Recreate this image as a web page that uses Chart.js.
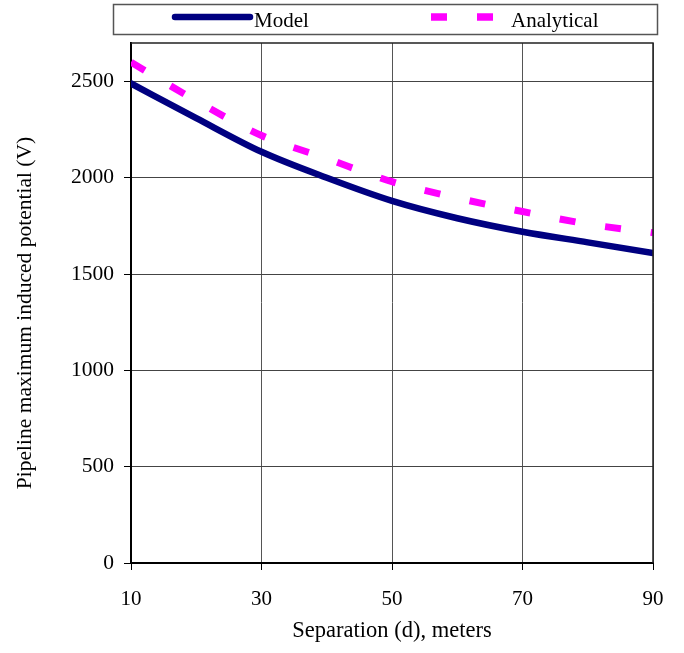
<!DOCTYPE html>
<html>
<head>
<meta charset="utf-8">
<title>Induced potential vs separation</title>
<script src="https://cdn.jsdelivr.net/npm/chart.js@4.4.1/dist/chart.umd.min.js"></script>
<style>
  html, body { margin: 0; padding: 0; background: #fff; }
  #wrap { width: 684px; height: 653px; position: relative; }
</style>
</head>
<body>
<div id="wrap"><canvas id="chart" width="684" height="653"></canvas></div>
<script>
/* ── data ─────────────────────────────────────────────── */
const separation = [10, 20, 30, 40, 50, 60, 70, 80, 90];            // meters
const modelV      = [2490, 2310, 2135, 2000, 1880, 1790, 1720, 1665, 1610];
const analyticalV = [2600, 2400, 2220, 2100, 1980, 1895, 1825, 1760, 1715];
const xTicks = [10, 30, 50, 70, 90];
const yTicks = [0, 500, 1000, 1500, 2000, 2500];
const yTitle = 'Pipeline maximum induced potential (V)';

const FONT = "'Liberation Serif', 'Times New Roman', serif";

const toPoints = vals => vals.map((v, i) => ({ x: separation[i], y: v }));

/* ── plot frame (top + right edges) ───────────────────── */
const framePlugin = {
  id: 'frame',
  afterDatasetsDraw(chart) {
    const { ctx, chartArea: a } = chart;
    ctx.save();
    ctx.strokeStyle = '#222';
    ctx.lineWidth = 1.5;
    ctx.beginPath();
    ctx.moveTo(a.left, a.top);
    ctx.lineTo(a.right, a.top);
    ctx.lineTo(a.right, a.bottom);
    ctx.stroke();
    ctx.restore();
  }
};

/* ── rotated y title, sitting a little below the axis centre ── */
const yTitlePlugin = {
  id: 'yTitle',
  afterDraw(chart) {
    const { ctx } = chart;
    ctx.save();
    ctx.translate(25, 313);
    ctx.rotate(-Math.PI / 2);
    ctx.fillStyle = '#000';
    ctx.font = '21.5px ' + FONT;
    ctx.textAlign = 'center';
    ctx.textBaseline = 'middle';
    ctx.fillText(yTitle, 0, 0);
    ctx.restore();
  }
};

/* ── boxed legend across the top ──────────────────────── */
const legendBox = {
  id: 'legendBox',
  afterDraw(chart) {
    const { ctx } = chart;
    const ds = chart.data.datasets;
    ctx.save();
    ctx.strokeStyle = '#555';
    ctx.lineWidth = 1.5;
    ctx.strokeRect(113.5, 4.5, 544, 30);

    // Model sample
    ctx.strokeStyle = ds[0].borderColor;
    ctx.lineWidth = ds[0].borderWidth;
    ctx.lineCap = 'round';
    ctx.beginPath();
    ctx.moveTo(175, 17);
    ctx.lineTo(250, 17);
    ctx.stroke();

    // Analytical sample
    ctx.strokeStyle = ds[1].borderColor;
    ctx.lineWidth = 7.5;
    ctx.lineCap = 'butt';
    ctx.setLineDash(ds[1].borderDash);
    ctx.beginPath();
    ctx.moveTo(431, 17);
    ctx.lineTo(494, 17);
    ctx.stroke();
    ctx.setLineDash([]);

    ctx.fillStyle = '#000';
    ctx.font = '21px ' + FONT;
    ctx.textBaseline = 'alphabetic';
    ctx.fillText(ds[0].label, 254, 27);
    ctx.fillText(ds[1].label, 511, 27);
    ctx.restore();
  }
};

new Chart(document.getElementById('chart'), {
  type: 'line',
  data: {
    datasets: [
      {
        label: 'Model',
        data: toPoints(modelV),
        borderColor: '#000080',
        borderWidth: 6.5,
        borderCapStyle: 'round',
        borderJoinStyle: 'round',
        pointRadius: 0,
        cubicInterpolationMode: 'monotone',
        fill: false,
      },
      {
        label: 'Analytical',
        data: toPoints(analyticalV),
        borderColor: '#FF00FF',
        borderWidth: 7,
        borderDash: [16, 30],
        borderCapStyle: 'butt',
        pointRadius: 0,
        cubicInterpolationMode: 'monotone',
        fill: false,
      },
    ],
  },
  options: {
    responsive: false,
    animation: false,
    devicePixelRatio: 1,
    layout: { padding: { top: 43, right: 31, bottom: 0, left: 0 } },
    plugins: {
      legend: { display: false },
      tooltip: { enabled: false },
    },
    scales: {
      x: {
        type: 'linear',
        min: 10,
        max: 90,
        afterBuildTicks: s => { s.ticks = xTicks.map(v => ({ value: v })); },
        afterFit: s => { s.height = 90; },
        grid: { color: '#555', lineWidth: 1, tickLength: 7, tickColor: '#000' },
        border: { color: '#000', width: 2 },
        ticks: {
          color: '#000', padding: 17, maxRotation: 0,
          font: { size: 21, family: FONT },
          callback: v => String(v),
        },
        title: {
          display: true,
          text: 'Separation (d), meters',
          color: '#000',
          font: { size: 22.5, family: FONT },
          padding: { top: 0, bottom: 8 },
        },
      },
      y: {
        min: 0,
        max: 2700,
        afterBuildTicks: s => { s.ticks = yTicks.map(v => ({ value: v })); },
        afterFit: s => { s.width = 131; },
        grid: { color: '#444', lineWidth: 1, tickLength: 7, tickColor: '#000' },
        border: { color: '#000', width: 2 },
        ticks: {
          color: '#000', padding: 10,
          font: { size: 21.5, family: FONT },
          callback: v => String(v),
        },
      },
    },
  },
  plugins: [framePlugin, yTitlePlugin, legendBox],
});
</script>
</body>
</html>
